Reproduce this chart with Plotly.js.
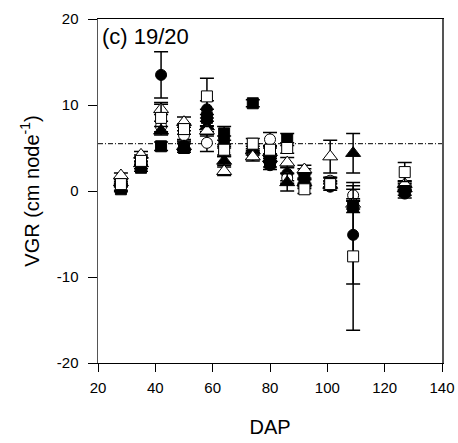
<!DOCTYPE html>
<html>
<head>
<meta charset="utf-8">
<script src="https://cdn.plot.ly/plotly-3.0.1.min.js"></script>
<style>html,body{margin:0;padding:0;background:#fff;}#chart{width:458px;height:443px;}</style>
</head>
<body>
<div id="chart"></div>
<script>
// Days after planting
var dap = [28, 35, 42, 50, 58, 64, 74, 80, 86, 92, 101, 109, 127];

// Series values (VGR, cm node-1) and their error bars
var filledCircle    = [0.5, 3.0, 13.5, 5.3, 9.5, 5.8, 5.0, 3.0, 2.0, 2.0, 0.5, -5.1, -0.3];
var filledCircleErr = [0.4, 0.4, 2.7, 0.5, 1.0, 0.6, 0.5, 0.5, 0.8, 0.6, 0.4, 5.7, 0.5];

var openCircle      = [1.2, 3.8, 7.5, 6.5, 5.6, 4.5, 4.2, 6.0, 1.5, 0.8, 1.2, -0.5, 0.5];
var openCircleErr   = [0.3, 0.4, 0.6, 0.5, 1.0, 0.5, 0.5, 0.8, 0.6, 0.5, 0.4, 0.7, 0.4];

var filledTri       = [1.0, 3.2, 7.0, 5.2, 7.5, 3.5, 4.7, 3.8, 1.0, 1.0, 0.7, 4.4, 0.3];
var filledTriErr    = [0.3, 0.3, 0.5, 0.5, 0.6, 0.5, 0.5, 0.5, 1.0, 0.5, 0.4, 2.3, 0.4];

var openTri         = [1.8, 4.2, 9.5, 8.0, 7.0, 2.3, 4.0, 4.5, 3.3, 2.5, 4.0, -1.5, 0.8];
var openTriErr      = [0.3, 0.4, 0.6, 0.6, 0.6, 0.5, 0.5, 0.5, 0.6, 0.5, 1.9, 0.6, 0.4];

var filledSq        = [0.2, 2.7, 5.2, 5.0, 8.5, 6.7, 10.2, 3.3, 6.0, 1.5, 1.0, -1.8, 0.0];
var filledSqErr     = [0.3, 0.4, 0.5, 0.5, 1.0, 0.8, 0.4, 0.5, 0.7, 0.6, 0.5, 0.7, 0.5];

var openSq          = [0.8, 3.5, 8.5, 7.2, 11.0, 4.8, 5.5, 4.8, 5.0, 0.2, 0.8, -7.6, 2.2];
var openSqErr       = [0.3, 0.4, 1.8, 0.6, 2.1, 0.6, 0.6, 0.5, 0.6, 0.5, 0.4, 8.6, 1.1];

// Axis ticks
var xTicks = [20, 40, 60, 80, 100, 120, 140];
var xTickText = ['20', '40', '60', '80', '100', '120', '140'];
var yTicks = [-20, -10, 0, 10, 20];
var yTickText = ['-20', '-10', '0', '10', '20'];

var refLine = 5.5;
var panelLabel = '(c) 19/20';

function series(y, err, symbol, fill) {
  return {
    x: dap, y: y, type: 'scatter', mode: 'markers',
    error_y: {type: 'data', array: err, visible: true, color: '#000', thickness: 1.5, width: 7},
    marker: {symbol: symbol, size: symbol.indexOf('triangle') === 0 ? 13 : 11, color: fill,
             line: {color: '#000', width: 1}},
    showlegend: false, hoverinfo: 'x+y'
  };
}

var data = [
  series(filledCircle, filledCircleErr, 'circle', '#000'),
  series(openCircle, openCircleErr, 'circle', '#fff'),
  series(filledTri, filledTriErr, 'triangle-up', '#000'),
  series(openTri, openTriErr, 'triangle-up', '#fff'),
  series(filledSq, filledSqErr, 'square', '#000'),
  series(openSq, openSqErr, 'square', '#fff')
];

var fam = 'Liberation Sans, Arial, sans-serif';

var layout = {
  width: 458, height: 443,
  margin: {l: 98, r: 16, t: 19, b: 80},
  paper_bgcolor: '#fff', plot_bgcolor: '#fff',
  font: {family: fam, size: 15, color: '#000'},
  xaxis: {
    range: [20, 140], tickvals: xTicks, ticktext: xTickText,
    ticks: 'outside', ticklen: 8, tickwidth: 1, tickcolor: '#000',
    ticklabelstandoff: 3,
    showline: true, linecolor: '#000', linewidth: 1, mirror: true,
    showgrid: false, zeroline: false,
    tickfont: {family: fam, size: 15, color: '#000'},
    title: {text: 'DAP', font: {family: fam, size: 20, color: '#000'}, standoff: 24}
  },
  yaxis: {
    range: [-20, 20], tickvals: yTicks, ticktext: yTickText,
    ticks: 'outside', ticklen: 9, tickwidth: 1, tickcolor: '#000',
    ticklabelstandoff: 6,
    showline: true, linecolor: '#555', linewidth: 1.5, mirror: true,
    showgrid: false, zeroline: false,
    tickfont: {family: fam, size: 15, color: '#000'},
    title: {text: 'VGR (cm node<sup>-1</sup>)', font: {family: fam, size: 20, color: '#000'}, standoff: 12}
  },
  shapes: [{
    type: 'line', xref: 'paper', x0: 0, x1: 1, yref: 'y', y0: refLine, y1: refLine,
    line: {color: '#000', width: 1, dash: '5px,2px,1px,2px'}, layer: 'below'
  }],
  annotations: [{
    text: panelLabel, xref: 'paper', yref: 'paper', x: 0.006, y: 0.99,
    xanchor: 'left', yanchor: 'top', showarrow: false,
    font: {family: fam, size: 22, color: '#000'}
  }]
};

Plotly.newPlot('chart', data, layout, {displayModeBar: false, staticPlot: true});
</script>
</body>
</html>
